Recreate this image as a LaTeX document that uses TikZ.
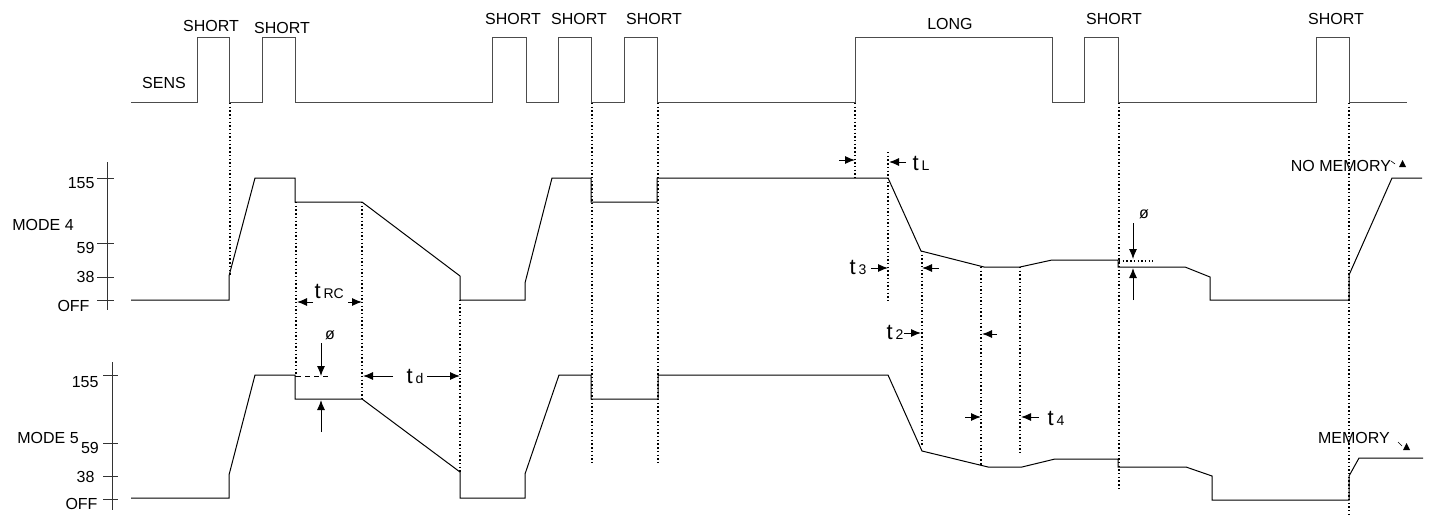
\documentclass[tikz,border=0pt]{standalone}
\usepackage{fontspec}
\setmainfont{Liberation Sans}
\usetikzlibrary{arrows.meta}

\begin{document}
\begin{tikzpicture}[x=1pt,y=-1pt,line width=1pt,
    wave/.style={black!70},
    curve/.style={black},
    guide/.style={line width=1.4pt,dash pattern=on 1.4pt off 2.3pt},
    dim/.style={-{Latex[length=10pt,width=8pt]}},
    lbl/.style={font=\fontsize{16}{18}\selectfont,inner sep=0pt},
    tlbl/.style={font=\fontsize{22}{22}\selectfont,inner sep=0pt,anchor=base west}]
  \useasboundingbox (0,0) rectangle (1431,517);
  \newcommand{\sub}[1]{\hspace{3pt}{\fontsize{14}{14}\selectfont #1}}
  % sensor input
  \draw[wave] (131,102) -- (197,102) -- (197,37) -- (229,37) -- (229,102) -- (262,102) -- (262,37) -- (295,37) -- (295,102)
    -- (492,102) -- (492,37) -- (526,37) -- (526,102) -- (558,102) -- (558,37) -- (591,37) -- (591,102) -- (624,102) -- (624,37) -- (657,37) -- (657,102)
    -- (855,102) -- (855,37) -- (1052,37) -- (1052,102) -- (1084,102) -- (1084,37) -- (1118,37) -- (1118,102)
    -- (1316,102) -- (1316,37) -- (1349,37) -- (1349,102) -- (1407,102);
  \node[lbl] (sens) at (164,83) {SENS};
  \node[lbl] (s1) at (211,26) {SHORT};
  \node[lbl] (s2) at (282,28) {SHORT};
  \node[lbl] (s3) at (513,19) {SHORT};
  \node[lbl] (s4) at (579,19) {SHORT};
  \node[lbl] (s5) at (654,19) {SHORT};
  \node[lbl] (long) at (950,24) {LONG};
  \node[lbl] (s6) at (1114,19) {SHORT};
  \node[lbl] (s7) at (1336,19) {SHORT};
  % axes
  \draw[black!80] (107,162) -- (107,310);
  \foreach \y in {178,243,277,300} \draw[black!80] (97,\y) -- (114,\y);
  \draw[black!80] (112,362) -- (112,510);
  \foreach \y in {375,443,476,499} \draw[black!80] (103,\y) -- (118,\y);
  \node[lbl,anchor=east] (a155) at (95,183) {155};
  \node[lbl,anchor=east] (a59) at (95,248) {59};
  \node[lbl,anchor=east] (a38) at (95,277) {38};
  \node[lbl,anchor=east] (aoff) at (90,306) {OFF};
  \node[lbl] (mode4) at (43,225) {MODE 4};
  \node[lbl,anchor=east] (b155) at (99,382) {155};
  \node[lbl] (mode5) at (48,438) {MODE 5};
  \node[lbl] (b59) at (90,448) {59};
  \node[lbl,anchor=east] (b38) at (95,477) {38};
  \node[lbl,anchor=east] (boff) at (98,504) {OFF};
  % mode 4
  \draw[curve] (131,300) -- (229,300) -- (229,276) -- (255,178) -- (295,178) -- (295,202) -- (362,202) -- (460,276) -- (460,300)
    -- (525,300) -- (525,283) -- (552,178) -- (591,178) -- (591,202) -- (657,202) -- (657,178) -- (888,178) -- (921,251)
    -- (984,267) -- (1020,267) -- (1052,260) -- (1118,260) -- (1118,267) -- (1185,267) -- (1210,277) -- (1210,300)
    -- (1349,300) -- (1349,275) -- (1392,178) -- (1422,178);
  % mode 5
  \draw[curve] (131,498) -- (229,498) -- (229,475) -- (255,375) -- (295,375) -- (295,399) -- (362,399) -- (460,472) -- (460,498)
    -- (525,498) -- (525,474) -- (559,375) -- (591,375) -- (591,399) -- (658,399) -- (658,375) -- (888,375) -- (922,451)
    -- (988,467) -- (1022,467) -- (1055,459) -- (1118,459) -- (1118,467) -- (1186,467) -- (1212,476) -- (1212,500)
    -- (1349,500) -- (1349,476) -- (1359,458) -- (1423,458);
  % guides
  \draw[guide] (230,103) -- (230,276);
  \draw[guide] (296,202) -- (296,376);
  \draw[guide] (362,202) -- (362,399);
  \draw[guide] (460,300) -- (460,472);
  \draw[guide] (592,103) -- (592,462);
  \draw[guide] (658,103) -- (658,462);
  \draw[guide] (855,103) -- (855,178);
  \draw[guide] (888,152) -- (888,303);
  \draw[guide] (922,251) -- (922,447);
  \draw[guide] (981,267) -- (981,465);
  \draw[guide] (1020,267) -- (1020,455);
  \draw[guide] (1119,103) -- (1119,488);
  \draw[guide] (1349,103) -- (1349,517);
  \draw[guide] (1119,261) -- (1153,261);
  % timing marks
  \draw[dim] (839,160) -- (855,160);
  \draw[dim] (906,162) -- (889,162);
  \node[tlbl] (tl) at (912,170) {t\sub{L}};
  \draw[dim] (871,268) -- (888,268);
  \draw[dim] (939,268) -- (922,268);
  \node[tlbl] (t3) at (849,274) {t\sub{3}};
  \draw[dim] (904,333) -- (921,333);
  \draw[dim] (997,334) -- (982,334);
  \node[tlbl] (t2) at (886,339) {t\sub{2}};
  \draw[dim] (965,417) -- (981,417);
  \draw[dim] (1039,417) -- (1021,417);
  \node[tlbl] (t4) at (1047,425) {t\sub{4}};
  \draw[dim] (313,302) -- (297,302);
  \draw[dim] (348,302) -- (362,302);
  \node[tlbl] (trc) at (314,298) {t\sub{RC}};
  \draw[dim] (393,376) -- (363,376);
  \draw[dim] (427,376) -- (460,376);
  \node[tlbl] (td) at (406,383) {t\sub{d}};
  % offsets
  \draw[dash pattern=on 5pt off 4pt] (296,376) -- (330,376);
  \draw[dim] (321,343) -- (321,376);
  \draw[dim] (321,432) -- (321,400);
  \node[font=\fontsize{16}{16}\selectfont,inner sep=0pt] (o5) at (330,335) {ø};
  \draw[dim] (1133,223) -- (1133,259);
  \draw[dim] (1133,300) -- (1133,268);
  \node[font=\fontsize{16}{16}\selectfont,inner sep=0pt] (o4) at (1144,214) {ø};
  % memory
  \node[lbl] (nomem) at (1341,166) {NO MEMORY};
  \draw[line width=0.6pt] (1391,161) -- (1395,164);
  \fill (1399,167) -- (1406,167) -- (1402.5,160) -- cycle;
  \node[lbl] (mem) at (1354,438) {MEMORY};
  \draw[line width=0.6pt] (1398,442) -- (1402,446);
  \fill (1403,450) -- (1410,450) -- (1406.5,443) -- cycle;
\end{tikzpicture}
\end{document}
